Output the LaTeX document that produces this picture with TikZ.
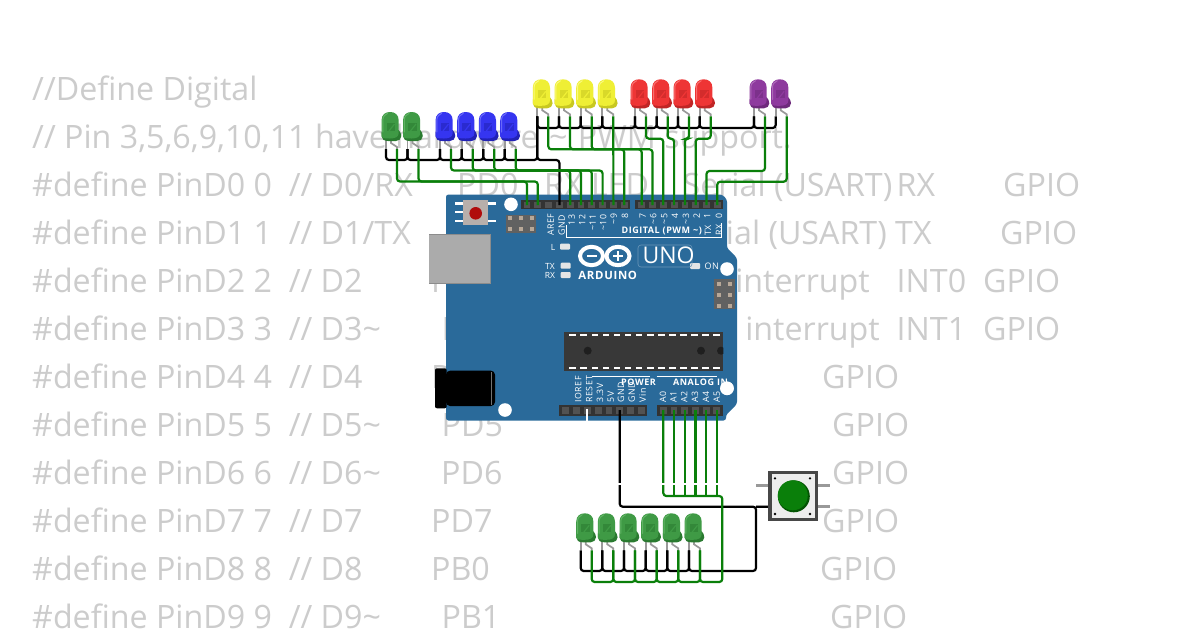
\documentclass[tikz,border=0pt]{standalone}
\usepackage{fontspec}
\setmainfont{Open Sans}
\newfontfamily\trk[LetterSpace=6]{Open Sans}
\definecolor{codegray}{HTML}{CCCCCC}
\definecolor{board}{HTML}{2A6A9A}
\definecolor{wgreen}{HTML}{0A7F0A}
\definecolor{icsppin}{HTML}{B8A898}
\definecolor{resetbody}{HTML}{B8AFAB}
\definecolor{resetred}{HTML}{B00C0C}
\definecolor{ledgreen}{HTML}{3F9A45}\definecolor{ledgreendk}{HTML}{2A7A30}\definecolor{ledgreenlt}{HTML}{6FBF72}
\definecolor{ledblue}{HTML}{3535F0}\definecolor{ledbluedk}{HTML}{2222B5}\definecolor{ledbluelt}{HTML}{7F7FFF}
\definecolor{ledyellow}{HTML}{EFEF35}\definecolor{ledyellowdk}{HTML}{C8C820}\definecolor{ledyellowlt}{HTML}{FFFF99}
\definecolor{ledred}{HTML}{EE3535}\definecolor{ledreddk}{HTML}{C02525}\definecolor{ledredlt}{HTML}{FF8A8A}
\definecolor{ledpurple}{HTML}{8E3A9E}\definecolor{ledpurpledk}{HTML}{6E2A7C}\definecolor{ledpurplelt}{HTML}{BB7FC6}
\tikzset{
  codetxt/.style={anchor=base west,inner sep=0pt,text=codegray,font=\fontsize{32.2}{32}\selectfont},
  codetxtr/.style={anchor=base east,inner sep=0pt,text=codegray,font=\fontsize{32.2}{32}\selectfont},
  bw/.style={draw=black,line width=2.2pt,rounded corners=3pt},
  gw/.style={draw=wgreen,line width=2.2pt,rounded corners=3pt},
  whw/.style={draw=white,line width=2pt},
  hole/.style={fill=white,draw=none},
  vlab/.style={rotate=90,inner sep=0pt,text=white,font=\trk\fontsize{8.8}{9}\selectfont},
  numlab/.style={vlab,anchor=east},
  botlab/.style={vlab,anchor=west},
  hlab/.style={inner sep=0pt,text=white,font=\fontsize{8.5}{9}\selectfont},
  boldlab/.style={inner sep=0pt,text=white,font=\trk\bfseries\fontsize{9}{9}\selectfont},
  hdr/.style={fill=black!80,draw=none},
  icsp/.style={fill=black!62,draw=none},
  pinsq/.style={fill=black!68,draw=none},
  dip/.style={fill=white,draw=none},
  smallled/.style={fill=white!90!black,draw=none,rounded corners=1pt},
  ledleg/.style={draw=black!40,line width=1.7pt},
  pics/ledpic/.style={code={
    \draw[ledleg] (0,28) -- (0,37);
    \draw[ledleg] (5,28) -- (5,31) -- (11,35) -- (11,37);
    \coordinate (-k) at (0,37);
    \coordinate (-a) at (11,37);
    \fill[led#1dk] (-4.5,20) -- (12.7,18) .. controls (14,20) and (15.3,21) .. (15.3,24) .. controls (15.3,27) and (13,28.8) .. (10,29) -- (2,29) .. controls (-2,29) and (-4.5,27) .. (-4.5,24) -- cycle;
    \fill[led#1] (-4.5,24) -- (-4.5,8.5) .. controls (-4.5,2.5) and (-0.5,0) .. (4.1,0) .. controls (8.7,0) and (12.7,2.5) .. (12.7,8.5) -- (12.7,21) .. controls (12.7,25) and (9,26.5) .. (4,26.5) .. controls (0,26.5) and (-4.5,26.5) .. (-4.5,24) -- cycle;
    \draw[led#1lt,line width=1pt,line cap=round,opacity=.7] (-3.2,20) -- (-3.2,8) .. controls (-3.2,4.5) and (-1,2.5) .. (1.5,1.4);
    \fill[led#1dk,opacity=.55] (0.5,10.5) rectangle (9,19);
    \draw[led#1,line width=1.2pt] (3,19) -- (8.5,12);
  }}
}
\newcommand{\ct}[4]{\node[codetxt] (#1) at (#2,#3) {#4};}
\newcommand{\ctr}[4]{\node[codetxtr] (#1) at (#2,#3) {#4};}
\begin{document}
\begin{tikzpicture}[x=1pt,y=-1pt]
\clip (0,0) rectangle (1200,630);
\fill[white] (0,0) rectangle (1200,630);

% ---------- code text behind everything
\ct{c1}{32}{100}{//Define Digital}
\ct{c2}{32}{148}{// Pin 3,5,6,9,10,11 have hardware\hspace{2pt} \textasciitilde\hspace{2pt} PWM support.}
\ct{c3}{32}{196}{\#define PinD0 0\ \ // D0/RX}
\ct{c3b}{457}{196}{PD0}
\ct{c3c}{544}{196}{RX LED}
\ctr{c3d}{892.5}{196}{Serial (USART)}
\ct{c3e}{896.5}{196}{RX}
\ct{c3f}{1003}{196}{GPIO}
\ct{c4}{32}{244}{\#define PinD1 1\ \ // D1/TX}
\ctr{c4d}{887}{244}{Serial (USART)}
\ct{c4e}{895}{244}{TX}
\ct{c4f}{1000}{244}{GPIO}
\ct{c5}{32}{292}{\#define PinD2 2\ \ // D2}
\ct{c5b}{431}{292}{PD2}
\ctr{c5d}{870}{292}{external interrupt}
\ct{c5e}{896.5}{292}{INT0}
\ct{c5f}{983}{292}{GPIO}
\ct{c6}{32}{340}{\#define PinD3 3\ \ // D3\textasciitilde}
\ct{c6b}{441.5}{340}{PD3}
\ctr{c6d}{880}{340}{external interrupt}
\ct{c6e}{896.5}{340}{INT1}
\ct{c6f}{983}{340}{GPIO}
\ct{c7}{32}{388}{\#define PinD4 4\ \ // D4}
\ct{c7b}{431}{388}{PD4}
\ct{c7f}{822}{388}{GPIO}
\ct{c8}{32}{436}{\#define PinD5 5\ \ // D5\textasciitilde}
\ct{c8b}{441.5}{436}{PD5}
\ct{c8f}{832}{436}{GPIO}
\ct{c9}{32}{484}{\#define PinD6 6\ \ // D6\textasciitilde}
\ct{c9b}{441}{484}{PD6}
\ct{c9f}{832}{484}{GPIO}
\ct{c10}{32}{532}{\#define PinD7 7\ \ // D7}
\ct{c10b}{431}{532}{PD7}
\ct{c10f}{822}{532}{GPIO}
\ct{c11}{32}{580}{\#define PinD8 8\ \ // D8}
\ct{c11b}{431}{580}{PB0}
\ct{c11f}{820}{580}{GPIO}
\ct{c12}{32}{628}{\#define PinD9 9\ \ // D9\textasciitilde}
\ct{c12b}{441.5}{628}{PB1}
\ct{c12f}{830}{628}{GPIO}

% ---------- USB nubs, jack and board
\fill[black!35] (462,235) circle (5);
\fill[black!35] (462,284) circle (5);
\fill[board,rounded corners=2.5pt] (446,194.5) -- (722,194.5) -- (727,199.5) -- (727,248) -- (737,258) -- (737,404) -- (726,415) -- (726,420.5) -- (446,420.5) -- cycle;

% holes
\fill[hole] (511,204.3) circle (6.8);
\fill[hole] (727,269) circle (6.8);
\fill[hole] (727,388.3) circle (6.8);
\fill[hole] (505,410) circle (6.8);

% USB
\fill[black!45] (429,234) rectangle (490.7,284.3);
\fill[black!33] (429,234.8) rectangle (489.5,283);

% jack
\fill[black,rounded corners=4pt] (446,370.7) rectangle (495,406);
\draw[black!55,line width=.5pt] (491.5,372) -- (491.5,405);
\fill[black,rounded corners=2pt] (435,368.3) rectangle (446.7,408.3);

% reset button
\foreach \yy in {203.3,212,220.7} \fill[white] (455,\yy-1.2) rectangle (463,\yy+1.2);
\foreach \yy in {203.3,220.7} \fill[white] (488,\yy-1.2) rectangle (496,\yy+1.2);
\fill[resetbody] (462.7,200) rectangle (488,225);
\fill[resetred] (475.7,213.3) circle (6.3);

% ICSP headers
\fill[icsp] (506,215) rectangle (536,232.7);
\foreach \xx in {510,520.7,531.7} \foreach \yy in {218.3,228.7} \fill[icsppin] (\xx-2,\yy-2) rectangle (\xx+2,\yy+2);
\fill[icsp] (714,279.3) rectangle (735,309.3);
\foreach \xx in {719,730} \foreach \yy in {284.3,295,305.7} \fill[icsppin] (\xx-2,\yy-2) rectangle (\xx+2,\yy+2);

% IC
\fill[black!78] (564.3,332.3) rectangle (723.3,371);
\foreach \i in {0,...,13} {
  \fill[dip] ({572.7+11.08*\i-3.3},334) rectangle ({572.7+11.08*\i+3.3},336);
  \fill[dip] ({572.7+11.08*\i-3.3},367.3) rectangle ({572.7+11.08*\i+3.3},369.3);
}
\begin{scope}
\clip (564.3,332.3) rectangle (723.3,371);
\fill[black!88] (587.7,350.7) circle (4);
\fill[black!88] (701,350.7) circle (4);
\fill[black!88] (721,350.7) circle (4);
\end{scope}

% header rows
\fill[hdr] (521,199.7) rectangle (630,209.3);
\fill[hdr] (635,199.7) rectangle (723.3,209.3);
\fill[hdr] (559.3,405) rectangle (647.3,415.7);
\fill[hdr] (656.7,405) rectangle (723.3,415.7);
\foreach \i in {0,...,9} {\coordinate (dl\i) at ({527+10.8*\i},205); \fill[pinsq] ({527+10.8*\i-3.4},201.5) rectangle ({527+10.8*\i+3.4},208);}
\foreach \i in {0,...,7} {\coordinate (dr\i) at ({641.7+10.8*\i},205); \fill[pinsq] ({641.7+10.8*\i-3.4},201.5) rectangle ({641.7+10.8*\i+3.4},208);}
\foreach \i in {0,...,7} {\coordinate (pw\i) at ({565.7+10.8*\i},410); \fill[pinsq] ({565.7+10.8*\i-3.4},407) rectangle ({565.7+10.8*\i+3.4},414);}
\foreach \i in {0,...,5} {\coordinate (an\i) at ({663.3+10.7*\i},410); \fill[pinsq] ({663.3+10.7*\i-3.4},407) rectangle ({663.3+10.7*\i+3.4},414);}

% board printing, top
\node[botlab] (lAREF) at (550.7,236) {AREF};
\node[botlab] (lGND) at (561.7,236) {GND};
\node[botlab] (n13) at (571.7,225.5) {13};
\node[botlab] (n12) at (582.3,225.5) {12};
\node[botlab] (n11) at (592.7,231) {\textasciitilde11};
\node[botlab] (n10) at (603.3,231) {\textasciitilde10};
\node[numlab] (n9) at (613.7,213.5) {\textasciitilde9};
\node[numlab] (n8) at (625,213.5) {8};
\node[numlab] (n7) at (642.7,213.5) {7};
\node[numlab] (n6) at (653.3,213.5) {\textasciitilde6};
\node[numlab] (n5) at (664.3,213.5) {\textasciitilde5};
\node[numlab] (n4) at (675,213.5) {4};
\node[numlab] (n3) at (686,213.5) {\textasciitilde3};
\node[numlab] (n2) at (696.7,213.5) {2};
\node[numlab] (n1) at (707.3,213.5) {1};
\node[numlab] (n0) at (719,213.5) {0};
\node[botlab] (lTX) at (708,236) {TX};
\node[botlab] (lRX) at (719,236) {RX};
\node[boldlab,anchor=east] (lDIG) at (702,231) {DIGITAL (PWM \textasciitilde)};
\draw[white,line width=.9pt] (566,225) -- (566,237.7) -- (721.7,237.7) -- (721.7,223);

% on-board LEDs
\node[hlab] (lL) at (553,247) {L};
\node[hlab] (lTXs) at (550,266) {TX};
\node[hlab] (lRXs) at (550,275) {RX};
\node[hlab,font=\trk\fontsize{9}{9}\selectfont] (lON) at (711.7,266) {ON};
\foreach \xx/\yy in {565/246.7,565.7/265.7,565.7/275,695/266} \fill[smallled] (\xx-5,\yy-3) rectangle (\xx+5,\yy+3);

% logo
\draw[white,line width=4pt] (591.5,256) ellipse (11.5 and 9.2);
\draw[white,line width=4pt] (618,256) ellipse (11.5 and 9.2);
\fill[white] (586.5,254.8) rectangle (596.5,257.2);
\fill[white] (613,254.8) rectangle (623,257.2);
\fill[white] (616.8,251) rectangle (619.2,261);
\node[boldlab,font=\trk\bfseries\fontsize{11.4}{12}\selectfont] (lARD) at (607.7,275.7) {ARDUINO};
\draw[white!30!board,line width=.6pt,rounded corners=3pt] (638,245) rectangle (692,267);
\node[hlab,font=\fontsize{23}{24}\selectfont] (lUNO) at (668.5,255) {UNO};

% board printing, bottom
\draw[white,line width=.9pt] (591.7,376) -- (650,376);
\draw[white,line width=.9pt] (656.7,376) -- (716.7,376);
\node[botlab] (bI) at (578.3,402.7) {IOREF};
\node[botlab] (bR) at (589.3,402.7) {RESET};
\node[botlab] (b3) at (600,402.7) {3.3V};
\node[botlab] (b5) at (610.7,402.7) {5V};
\node[botlab] (bG1) at (621,402.7) {GND};
\node[botlab] (bG2) at (631.7,402.7) {GND};
\node[botlab] (bV) at (642.7,402.7) {Vin};
\node[botlab] (bA0) at (663,402.7) {A0};
\node[botlab] (bA1) at (673.5,402.7) {A1};
\node[botlab] (bA2) at (684.3,402.7) {A2};
\node[botlab] (bA3) at (695,402.7) {A3};
\node[botlab] (bA4) at (706,402.7) {A4};
\node[botlab] (bA5) at (716.7,402.7) {A5};
\node[boldlab] (lPOW) at (638.5,382) {POWER};
\node[boldlab] (lANA) at (700.5,382) {ANALOG IN};
\fill[hole] (727,388.3) circle (6.8);

% ---------- LEDs
\pic (g1) at (386,112) {ledpic=green};
\pic (g2) at (407.5,112) {ledpic=green};
\pic (b1) at (440,112) {ledpic=blue};
\pic (b2) at (461.7,112) {ledpic=blue};
\pic (b3) at (483.3,112) {ledpic=blue};
\pic (b4) at (504.7,112) {ledpic=blue};
\pic (y1) at (537.3,79.3) {ledpic=yellow};
\pic (y2) at (559,79.3) {ledpic=yellow};
\pic (y3) at (580.7,79.3) {ledpic=yellow};
\pic (y4) at (602.3,79.3) {ledpic=yellow};
\pic (r1) at (635,79.3) {ledpic=red};
\pic (r2) at (656.7,79.3) {ledpic=red};
\pic (r3) at (678,79.3) {ledpic=red};
\pic (r4) at (699.7,79.3) {ledpic=red};
\pic (p1) at (754,79.3) {ledpic=purple};
\pic (p2) at (775.7,79.3) {ledpic=purple};
\pic (a1) at (580.7,513.3) {ledpic=green};
\pic (a2) at (602.3,513.3) {ledpic=green};
\pic (a3) at (624,513.3) {ledpic=green};
\pic (a4) at (645.7,513.3) {ledpic=green};
\pic (a5) at (667.3,513.3) {ledpic=green};
\pic (a6) at (689,513.3) {ledpic=green};

% ---------- button
\foreach \xx/\xb in {756/768,818/830} \foreach \yy in {485,506.7} \draw[black!40,line width=3pt] (\xx,\yy) -- (\xb,\yy);
\coordinate (sw1) at (768,506.7);
\coordinate (sw2) at (756,485);
\draw[fill=black!7,draw=black!72,line width=3.4pt] (770,472.7) rectangle (816.6,519.3);
\fill[green!25!black!70!wgreen] (793.8,496.3) circle (16);
\fill[wgreen] (792.8,495.3) circle (15);
\foreach \xx/\yy in {775/478.3,810/478.3,775/514,810/514} \fill[black] (\xx,\yy) circle (1.3);

% ---------- wire rails
\coordinate (ylo) at (0,160);
\coordinate (yup) at (0,128);
\coordinate (yg) at (0,181.5);
\coordinate (yb) at (0,170.5);
\coordinate (yy) at (0,149.3);
\coordinate (yr) at (0,138.7);
\coordinate (yp1) at (0,171);
\coordinate (yp2) at (0,181.7);
\coordinate (yab) at (0,571);
\coordinate (yag) at (0,582);
\coordinate (yac) at (0,496);
\coordinate (yaw) at (0,506.7);
\coordinate (yw) at (0,484);

% black wires
\foreach \s/\e in {g1/g2,g2/b1,b1/b2,b2/b3,b3/b4,b4/y1} \draw[bw] (\s-k) |- (\e-k |- ylo) -- (\e-k);
\foreach \s/\e in {y1/y2,y2/y3,y3/y4,y4/r1,r1/r2,r2/r3,r3/r4,r4/p1,p1/p2} \draw[bw] (\s-k) |- (\e-k |- yup) -- (\e-k);
\draw[bw] (y1-k) |- (dl3 |- ylo) -- (dl3);
\foreach \s/\e in {a1/a2,a2/a3,a3/a4,a4/a5,a5/a6} \draw[bw] (\s-k) |- (\e-k |- yab) -- (\e-k);
\draw[bw] (a6-k) |- (sw2 |- yab) -- (sw2 |- yaw) -- (pw5 |- yaw) -- (pw5);
\draw[bw] (sw2 |- yaw) -- (sw1);

% green wires
\draw[gw] (g1-a) |- (dl0 |- yg) -- (dl0);
\draw[gw] (g2-a) |- (dl1 |- yg) -- (dl1);
\draw[gw] (b1-a) |- (dl4 |- yb) -- (dl4);
\draw[gw] (b2-a) |- (dl5 |- yb) -- (dl5);
\draw[gw] (b3-a) |- (dl6 |- yb) -- (dl6);
\draw[gw] (b4-a) |- (dl7 |- yb) -- (dl7);
\draw[gw] (y1-a) |- (dr0 |- yy) -- (dr0);
\draw[gw] (y2-a) |- (dr1 |- yy) -- (dr1);
\draw[gw] (y3-a) |- (dl9 |- yy) -- (dl9);
\draw[gw] (y4-a) -- (dl8);
\draw[gw] (r1-a) |- (dr2 |- yr) -- (dr2);
\draw[gw] (r2-a) |- (dr3 |- yr) -- (dr3);
\draw[gw] (r3-a) |- (dr4 |- yr) -- (dr4);
\draw[gw] (r4-a) |- (dr5 |- yr) -- (dr5);
\draw[gw] (p1-a) |- (dr6 |- yp1) -- (dr6);
\draw[gw] (p2-a) |- (dr7 |- yp2) -- (dr7);
\foreach \s/\e in {a1/a2,a2/a3,a3/a4,a4/a5,a5/a6} \draw[gw] (\s-a) |- (\e-a |- yag) -- (\e-a);
\coordinate (gc) at (722.3,582);
\draw[gw] (a6-a) |- (gc) -- (gc |- yac) -- (an0 |- yac) -- (an0);
\foreach \n in {1,...,5} \draw[gw] (an\n |- yac) -- (an\n);

% white wire (reset to button)
\coordinate (rs) at (587,409);
\draw[whw] (rs) |- (sw2 |- yw);
\end{tikzpicture}
\end{document}
